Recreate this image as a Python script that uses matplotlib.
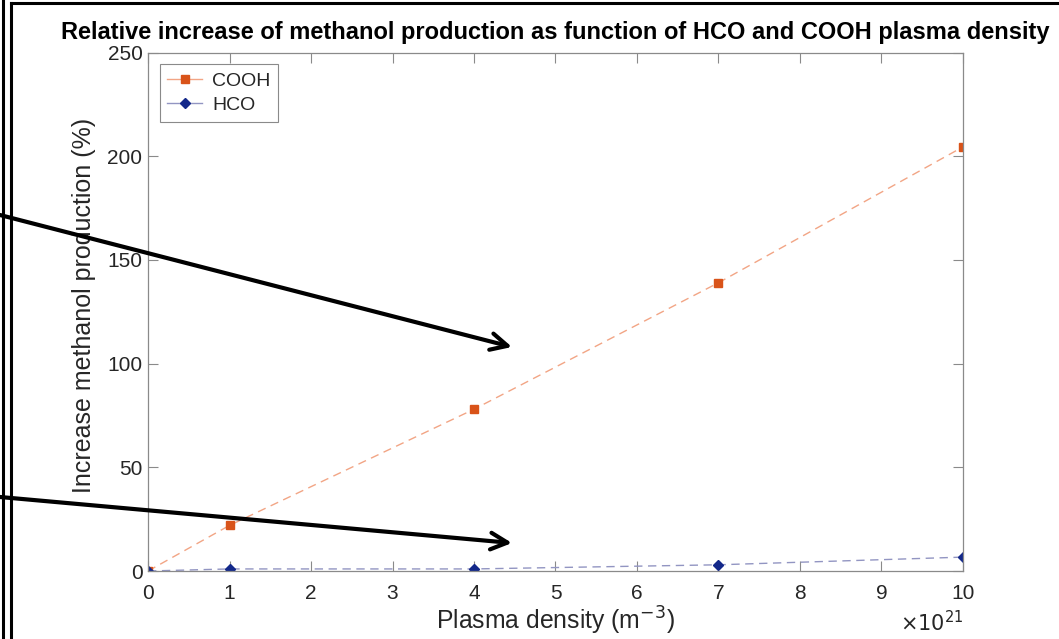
import numpy as np
import matplotlib
matplotlib.use("Agg")
import matplotlib.pyplot as plt
from matplotlib.lines import Line2D

plt.rcParams['font.family'] = ['Liberation Sans', 'DejaVu Sans']

# data (x in units of 1e21 m^-3)
density = [0, 1, 4, 7, 10]
cooh = [0, 22, 78, 139, 204.5]
hco = [0, 1, 1, 3, 6.7]

xticks = list(range(0, 11))
yticks = [0, 50, 100, 150, 200, 250]

gray = '#262626'
axcol = '#8a8a8a'

fig = plt.figure(figsize=(10.59, 6.39), dpi=100)
ax = fig.add_axes([0.1398, 0.1064, 0.7695, 0.8114])

ax.plot(density, cooh, linestyle=(0, (6, 4)), color='#f2a585', lw=1.0)
ax.plot(density, cooh, linestyle='none', marker='s', ms=5.5, color='#d95319')
ax.plot(density, hco, linestyle=(0, (6, 4)), color='#9295c2', lw=1.0)
ax.plot(density, hco, linestyle='none', marker='D', ms=5.5, color='#13288a')

ax.set_xlim(0, 10)
ax.set_ylim(0, 250)
ax.set_xticks(xticks)
ax.set_yticks(yticks)
ax.tick_params(direction='in', length=7, width=0.8, colors=axcol, labelcolor=gray,
               labelsize=15, top=True, right=True, pad=4)
ax.tick_params(axis='x', pad=9)
for s in ax.spines.values():
    s.set_color(axcol)
    s.set_linewidth(0.9)

ax.set_xlabel('Plasma density (m$^{-3}$)', fontsize=17.8, color=gray, labelpad=2)
ax.set_ylabel('Increase methanol production (%)', fontsize=18, color=gray)
ax.yaxis.set_label_coords(-0.064, 0.5125)
ax.set_title('Relative increase of methanol production as function of HCO and COOH plasma density',
             fontsize=17, fontweight='bold', pad=10)
ax.text(1.0, -0.1, r'$\times 10^{21}$', transform=ax.transAxes, ha='right', va='center',
        fontsize=15, color=gray)

# legend proxies
h1 = Line2D([], [], color='#f2a585', lw=1.0, marker='s', ms=5.5, mfc='#d95319', mec='#d95319')
h2 = Line2D([], [], color='#9295c2', lw=1.0, marker='D', ms=5.5, mfc='#13288a', mec='#13288a')
leg = ax.legend([h1, h2], ['COOH', 'HCO'], loc='upper left', fontsize=14,
                fancybox=False, edgecolor=axcol, framealpha=1, handlelength=1.8,
                handletextpad=0.5, borderaxespad=0.6, labelspacing=0.35, borderpad=0.4)
leg.get_frame().set_linewidth(0.8)
for t in leg.get_texts():
    t.set_color(gray)

# frame lines on the figure
fig.add_artist(Line2D([3 / 1059, 3 / 1059], [0, 1], color='black', lw=2.2, transform=fig.transFigure))
fig.add_artist(Line2D([11 / 1059, 11 / 1059], [0, 1 - 3 / 639], color='black', lw=2.2, transform=fig.transFigure))
fig.add_artist(Line2D([11 / 1059, 1], [1 - 3 / 639, 1 - 3 / 639], color='black', lw=2.2, transform=fig.transFigure))

# arrows from the left margin
for y0, y1 in [(215, 347), (497, 543)]:
    ax.annotate('', xy=(512 / 1059, 1 - y1 / 639), xycoords='figure fraction',
                xytext=(0, 1 - y0 / 639), textcoords='figure fraction',
                arrowprops=dict(arrowstyle='->', color='black', lw=3, mutation_scale=30,
                                shrinkA=0, shrinkB=0), annotation_clip=False)

fig.savefig('out.png', dpi=100)
